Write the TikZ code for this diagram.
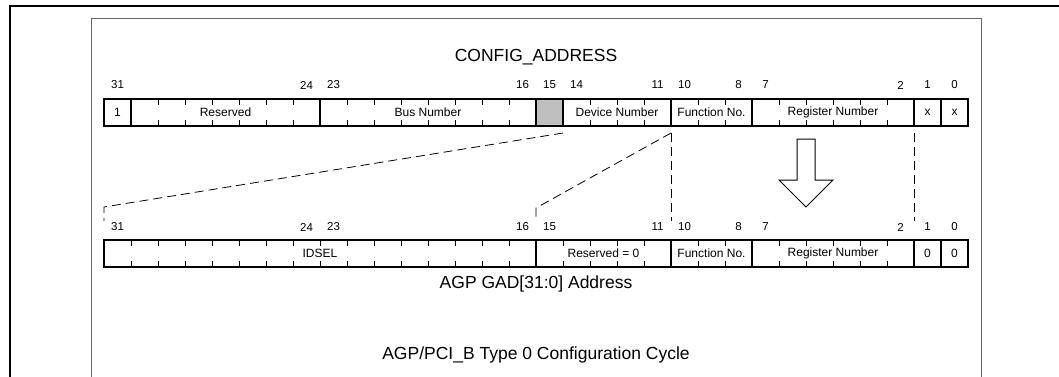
\documentclass[tikz,border=0pt]{standalone}
\usepackage{fontspec}
\setmainfont{Liberation Sans}

\begin{document}
\begin{tikzpicture}[x=1pt, y=-1pt]
	\tikzstyle{field}   = [rectangle, draw=black, line width=1.1pt, inner sep=0pt, outer sep=0pt, minimum height=27pt, font=\fontsize{12}{14}\selectfont]
	\tikzstyle{bitno}   = [inner sep=0pt, font=\fontsize{11.5}{13}\selectfont]
	\tikzstyle{caption} = [inner sep=0pt, font=\fontsize{17.5}{20}\selectfont]
	\tikzstyle{tick}    = [line width=1pt]
	\tikzstyle{link}    = [dash pattern=on 9pt off 5pt, line width=0.8pt]

	\clip (0,0) rectangle (1059,377);
	\draw[line width=2.2pt] (10,390) -- (10,6) -- (1070,6);
	\draw[line width=1pt, black!60] (91,390) -- (91,19) -- (981,19) -- (981,390);

	\node[caption] (config) at (536,57.5) {CONFIG\_ADDRESS};
	\node[caption] (gad)    at (536,284)  {AGP GAD[31:0] Address};
	\node[caption] (cycle)  at (536,355)  {AGP/PCI\_B Type 0 Configuration Cycle};

	% upper register
	\foreach \name/\hi/\lo/\txt in {a31/31/31/1, arsv/30/24/Reserved, abus/23/16/Bus Number, adev/14/11/Device Number, afun/10/8/Function No., areg/7/2/Register Number, a1/1/1/x, a0/0/0/x}
		\node[field, minimum width={(\hi-\lo+1)*27pt}] (\name) at ({104+(31-\hi)*27+(\hi-\lo+1)*13.5}, 112.5) {\txt};
	\node[field, fill=black!25, minimum width=27pt] (agray) at (549.5, 112.5) {};

	% lower register
	\foreach \name/\hi/\lo/\txt in {bid/31/16/IDSEL, brsv/15/11/Reserved = 0, bfun/10/8/Function No., breg/7/2/Register Number, b1/1/1/0, b0/0/0/0}
		\node[field, minimum width={(\hi-\lo+1)*27pt}] (\name) at ({104+(31-\hi)*27+(\hi-\lo+1)*13.5}, 253.5) {\txt};

	\foreach \name/\n in {arsv/6, abus/7, adev/3, afun/2, areg/5, bid/15, brsv/4, bfun/2, breg/5}
		\foreach \i in {1,...,\n}
			\draw[tick] ([xshift=\i*27pt]\name.north west) -- ++(0,6) ([xshift=\i*27pt]\name.south west) -- ++(0,-6);

	\foreach \b in {31,24,23,16,15,14,11,10,8,7,2,1,0}
		\node[bitno] (na\b) at ({104+(31-\b)*27+13.5}, 85) {\b};
	\foreach \b in {31,24,23,16,15,11,10,8,7,2,1,0}
		\node[bitno] (nb\b) at ({104+(31-\b)*27+13.5}, 227) {\b};

	\draw[link] ([yshift=-7pt]adev.south west) -- ([yshift=33pt]bid.north west) -- ([yshift=19pt]bid.north west);
	\draw[link] ([yshift=-7pt]adev.south east) -- ([yshift=32pt]brsv.north west) -- ([yshift=19pt]brsv.north west);
	\draw[link] ([yshift=-7pt]afun.south west) -- ([yshift=19pt]bfun.north west);
	\draw[link] ([yshift=-7pt]areg.south east) -- ([yshift=19pt]breg.north east);

	\coordinate (tip) at (806,207);
	\draw[line width=1pt, fill=white] (tip) -- ++(-27,-27) -- ++(18,0) -- ++(0,-41) -- ++(18,0) -- ++(0,41) -- ++(18,0) -- cycle;
\end{tikzpicture}
\end{document}
